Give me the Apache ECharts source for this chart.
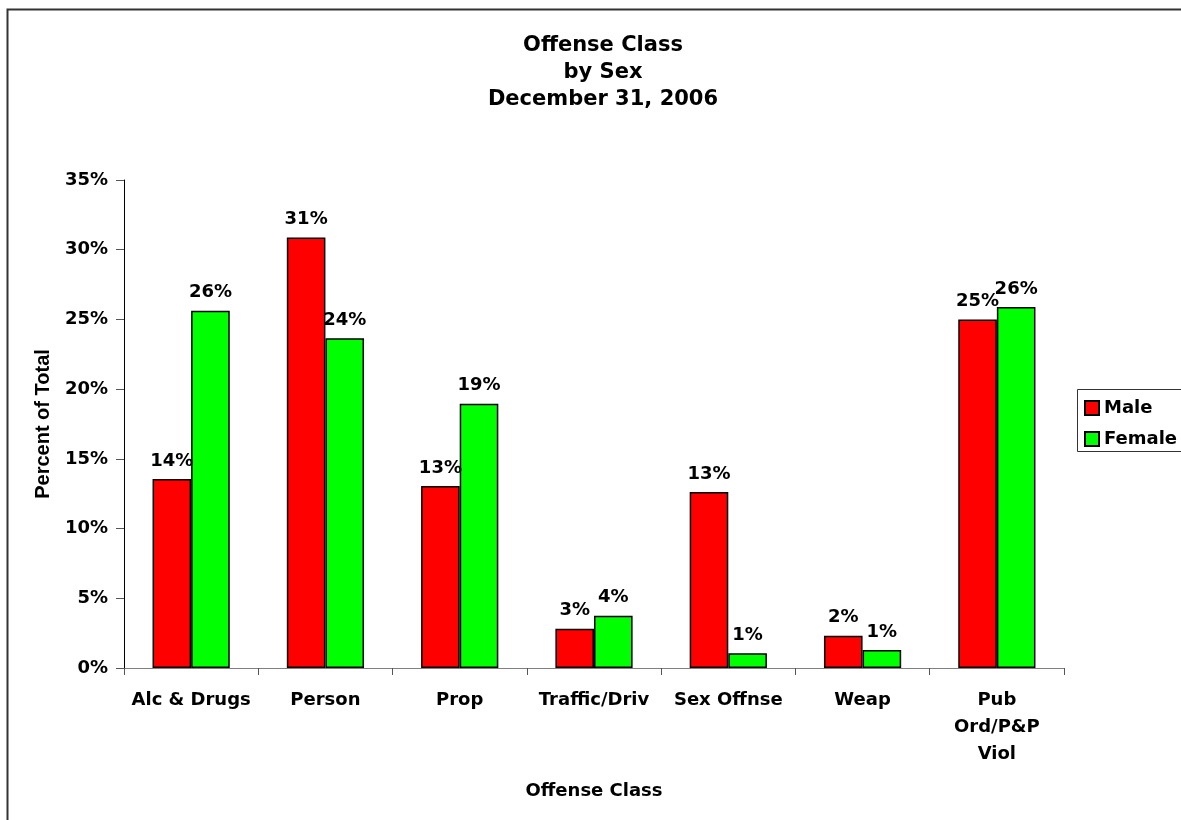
<!DOCTYPE html>
<html>
<head>
<meta charset="utf-8">
<script src="https://cdn.jsdelivr.net/npm/echarts@6/dist/echarts.min.js"></script>
<style>
html,body{margin:0;padding:0;background:#fff;}
#chart{width:1181px;height:820px;}
</style>
</head>
<body>
<div id="chart"></div>
<script>
const categories = ['Alc & Drugs', 'Person', 'Prop', 'Traffic/Driv', 'Sex Offnse', 'Weap', 'Pub\nOrd/P&P\nViol'];
const maleValues = [13.56, 30.87, 13.06, 2.82, 12.63, 2.32, 24.99];
const femaleValues = [25.63, 23.65, 18.96, 3.75, 1.05, 1.29, 25.9];
const yTicks = [0, 5, 10, 15, 20, 25, 30, 35];

const FONT = '"DejaVu Sans", sans-serif';
const FONT2 = '"Liberation Sans", Arial, sans-serif';
const chart = echarts.init(document.getElementById('chart'));

const labelStyle = {
  show: true,
  position: 'top',
  distance: 9,
  fontFamily: FONT,
  fontWeight: 'bold',
  fontSize: 18,
  color: '#000',
  formatter: p => Math.round(p.value) + '%'
};

chart.setOption({
  animation: false,
  backgroundColor: '#fff',
  textStyle: { fontFamily: FONT },
  graphic: [
    { type: 'rect', shape: { x: 7.5, y: 9.5, width: 1300, height: 1000 }, style: { fill: 'none', stroke: '#333', lineWidth: 2 }, silent: true, z: -1 },
    { type: 'rect', shape: { x: 1077.5, y: 389.5, width: 200, height: 62 }, style: { fill: '#fff', stroke: '#333', lineWidth: 1 }, silent: true, z: 0 }
  ],
  title: {
    text: 'Offense Class\nby Sex\nDecember 31, 2006',
    left: 598,
    textAlign: 'center',
    top: 27,
    textStyle: { fontFamily: FONT, fontWeight: 'bold', fontSize: 21, lineHeight: 27, color: '#000' }
  },
  legend: {
    orient: 'vertical',
    left: 1079,
    top: 394,
    itemWidth: 14,
    itemHeight: 14,
    itemGap: 13,
    icon: 'rect',
    textStyle: { fontFamily: FONT, fontWeight: 'bold', fontSize: 18, color: '#000' },
    data: ['Male', 'Female']
  },
  grid: { left: 124, right: 117, top: 180, bottom: 152, containLabel: false },
  xAxis: {
    type: 'category',
    data: categories,
    name: 'Offense Class',
    nameLocation: 'middle',
    nameGap: 114,
    nameTextStyle: { fontFamily: FONT, fontWeight: 'bold', fontSize: 18, color: '#000' },
    axisLine: { lineStyle: { color: '#808080', width: 1 } },
    axisTick: { show: true, length: 7, lineStyle: { color: '#555' } },
    axisLabel: { fontFamily: FONT, fontWeight: 'bold', fontSize: 18, color: '#000', margin: 19, lineHeight: 27, interval: 0 }
  },
  yAxis: {
    type: 'value',
    min: 0,
    max: 35,
    interval: 5,
    name: 'Percent of Total',
    nameLocation: 'middle',
    nameGap: 71,
    nameRotate: 90,
    nameTextStyle: { fontFamily: FONT2, fontWeight: 'bold', fontSize: 20, color: '#000' },
    splitLine: { show: false },
    axisLine: { show: true, lineStyle: { color: '#000', width: 1 } },
    axisTick: { show: true, length: 8, lineStyle: { color: '#555' } },
    axisLabel: { fontFamily: FONT, fontWeight: 'bold', fontSize: 18, color: '#000', margin: 16, formatter: v => yTicks.includes(v) ? v + '%' : '' }
  },
  series: [
    {
      name: 'Male',
      type: 'bar',
      data: maleValues,
      barGap: '0%',
      barCategoryGap: '42.5%',
      itemStyle: { color: '#FF0000', borderColor: '#000', borderWidth: 1.5 },
      label: labelStyle
    },
    {
      name: 'Female',
      type: 'bar',
      data: femaleValues,
      itemStyle: { color: '#00FF00', borderColor: '#000', borderWidth: 1.5 },
      label: labelStyle
    }
  ]
});
</script>
</body>
</html>
